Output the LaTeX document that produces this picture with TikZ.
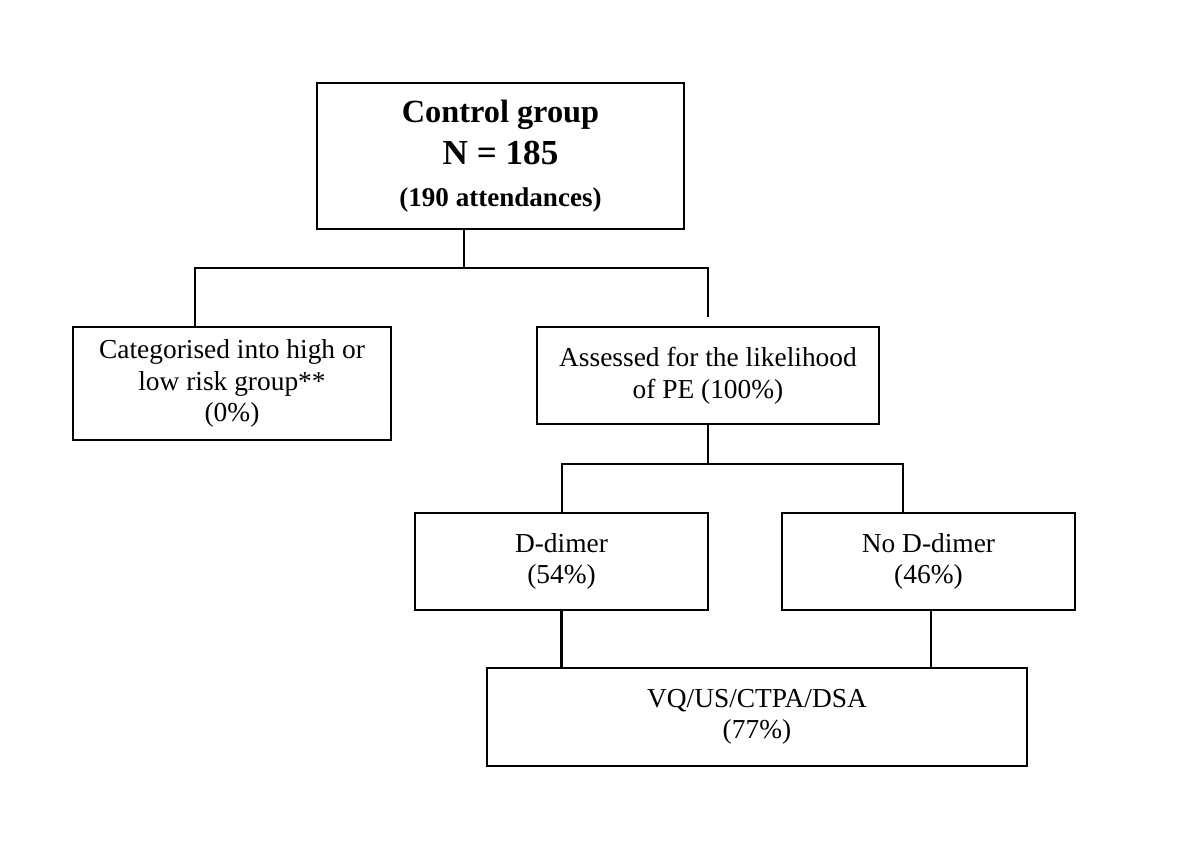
\documentclass[tikz,border=0pt]{standalone}
\usepackage{fontspec}
\setmainfont{Liberation Serif}
\tikzset{box/.style={draw,line width=0.7pt,inner sep=0pt,align=center,font=\fontsize{7.8}{9}\selectfont}}
\begin{document}
\begin{tikzpicture}[line width=0.7pt]
\useasboundingbox (0,0) rectangle (12,-8.44);
%
\node[box,minimum width=3.67cm,minimum height=1.46cm,font=\bfseries] (ctrl) at (5.005,-1.56)
  {\fontsize{9.2}{10.6}\selectfont Control group\\N = 185\\\fontsize{7.7}{9.2}\selectfont (190 attendances)};
\node[box,minimum width=3.18cm,minimum height=1.13cm] (cat) at (2.32,-3.835)
  {Categorised into high or\\low risk group**\\(0\%)};
\node[box,minimum width=3.42cm,minimum height=0.97cm] (assess) at (7.08,-3.755)
  {Assessed for the likelihood\\of PE (100\%)};
\node[box,minimum width=2.93cm,minimum height=0.97cm] (dd) at (5.615,-5.615)
  {D-dimer\\(54\%)};
\node[box,minimum width=2.93cm,minimum height=0.97cm] (nodd) at (9.285,-5.615)
  {No D-dimer\\(46\%)};
\node[box,minimum width=5.40cm,minimum height=0.98cm] (vq) at (7.57,-7.17)
  {VQ/US/CTPA/DSA\\(77\%)};
%
\coordinate (topsplit) at (4.64,-2.68);
\coordinate (topL) at (1.95,-2.68);
\coordinate (topR) at (7.08,-2.68);
\draw (topsplit |- ctrl.south)--(topsplit);
\draw[shorten >=0.09cm] (cat.north -| topL)--(topL)--(topR)--(assess.north);
%
\coordinate (midL) at (5.62,-4.64);
\coordinate (midR) at (9.03,-4.64);
\draw (assess.south)--(assess.south |- midL);
\draw (dd.north -| midL)--(midL)--(midR)--(nodd.north -| midR);
%
\coordinate (lowR) at (9.31,-6.40);
\draw (dd.south)--(dd.south |- vq.north);
\draw (nodd.south -| lowR)--(vq.north -| lowR);
\end{tikzpicture}
\end{document}
